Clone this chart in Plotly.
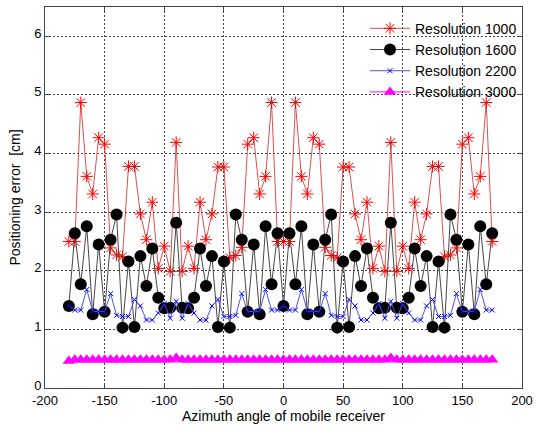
import plotly.graph_objects as go

# Azimuth angles of the mobile receiver (degrees)
angles = list(range(-180, 180, 5))

# Positioning error (cm) for each camera resolution
res_1000 = [
    2.50, 2.50, 4.87, 3.61, 3.31, 4.27, 4.16, 2.39, 2.27, 2.24,
    3.78, 3.78, 2.97, 2.53, 3.17, 2.04, 2.42, 1.99, 4.19, 1.99,
    2.42, 2.04, 3.17, 2.53, 2.97, 3.77, 3.77, 2.22, 2.26, 2.40,
    4.16, 4.27, 3.31, 3.61, 4.87, 2.50, 2.50, 2.50, 4.87, 3.61,
    3.31, 4.27, 4.16, 2.40, 2.26, 2.22, 3.77, 3.77, 2.97, 2.53,
    3.17, 2.04, 2.42, 1.99, 4.19, 1.99, 2.42, 2.04, 3.17, 2.53,
    2.97, 3.78, 3.78, 2.24, 2.27, 2.39, 4.16, 4.27, 3.31, 3.61,
    4.87, 2.50,
]
res_1600 = [
    1.40, 2.64, 1.77, 2.76, 1.26, 2.45, 1.30, 2.53, 2.96, 1.03,
    2.16, 1.04, 2.25, 1.74, 2.38, 1.54, 1.36, 1.37, 2.82, 1.37,
    1.36, 1.54, 2.38, 1.74, 2.25, 1.04, 2.16, 1.03, 2.96, 2.53,
    1.30, 2.45, 1.26, 2.76, 1.77, 2.64, 1.40, 2.64, 1.77, 2.76,
    1.26, 2.45, 1.30, 2.53, 2.96, 1.03, 2.16, 1.04, 2.25, 1.74,
    2.38, 1.54, 1.36, 1.37, 2.82, 1.37, 1.36, 1.54, 2.38, 1.74,
    2.25, 1.04, 2.16, 1.03, 2.96, 2.53, 1.30, 2.45, 1.26, 2.76,
    1.77, 2.64,
]
res_2200 = [
    1.40, 1.33, 1.33, 1.68, 1.31, 1.31, 1.30, 1.61, 1.24, 1.22,
    1.22, 1.51, 1.40, 1.16, 1.16, 1.28, 1.44, 1.19, 1.48, 1.19,
    1.44, 1.28, 1.16, 1.16, 1.40, 1.51, 1.22, 1.22, 1.24, 1.61,
    1.30, 1.31, 1.31, 1.68, 1.33, 1.33, 1.40, 1.33, 1.33, 1.68,
    1.31, 1.31, 1.30, 1.61, 1.24, 1.22, 1.22, 1.51, 1.40, 1.16,
    1.16, 1.28, 1.44, 1.19, 1.48, 1.19, 1.44, 1.28, 1.16, 1.16,
    1.40, 1.51, 1.22, 1.22, 1.24, 1.61, 1.30, 1.31, 1.31, 1.68,
    1.33, 1.33,
]
res_3000 = [0.46] + [0.48] * 17 + [0.51] + [0.48] * 35 + [0.51] + [0.48] * 17

x_ticks = [-200, -150, -100, -50, 0, 50, 100, 150, 200]
y_ticks = [0, 1, 2, 3, 4, 5, 6]

FONT = "Liberation Sans, Arial, Helvetica, sans-serif"

fig = go.Figure()
fig.add_trace(go.Scatter(
    x=angles, y=res_1000, name="Resolution 1000", mode="lines+markers",
    line=dict(color="rgb(220,80,80)", width=1),
    marker=dict(symbol="asterisk-open", size=10, color="red",
                line=dict(color="rgb(240,40,40)", width=1)),
))
fig.add_trace(go.Scatter(
    x=angles, y=res_1600, name="Resolution 1600", mode="lines+markers",
    line=dict(color="rgb(70,70,70)", width=1),
    marker=dict(symbol="circle", size=12, color="black"),
))
fig.add_trace(go.Scatter(
    x=angles, y=res_2200, name="Resolution 2200", mode="lines+markers",
    line=dict(color="rgb(80,80,235)", width=1),
    marker=dict(symbol="x-thin-open", size=5, color="blue",
                line=dict(color="blue", width=1)),
))
fig.add_trace(go.Scatter(
    x=angles, y=res_3000, name="Resolution 3000", mode="lines+markers",
    line=dict(color="magenta", width=1),
    marker=dict(symbol="triangle-up", size=11, color="magenta"),
))

axis_common = dict(
    showline=True, linecolor="#444", linewidth=1, mirror="ticks",
    ticks="inside", ticklen=4, tickcolor="#444",
    showgrid=True, gridcolor="#444", gridwidth=1, griddash="2px,2px",
    zeroline=False, tickfont=dict(family=FONT, size=13, color="black"),
)

fig.update_xaxes(
    range=[-200, 200], tickvals=x_ticks, ticktext=[str(v) for v in x_ticks],
    title=dict(text="Azimuth angle of mobile receiver",
               font=dict(family=FONT, size=14, color="black"), standoff=4),
    **axis_common,
)
fig.update_yaxes(
    range=[0, 6.5], tickvals=y_ticks, ticktext=[str(v) for v in y_ticks],
    ticklabelshift=-3,
    title=dict(text="Positioning error  [cm]",
               font=dict(family=FONT, size=14, color="black"), standoff=10),
    **axis_common,
)

fig.update_layout(
    width=539, height=430,
    margin=dict(l=45, r=11, t=6, b=42),
    paper_bgcolor="white", plot_bgcolor="white",
    showlegend=True,
    legend=dict(
        x=1.0, y=0.985, xanchor="right", yanchor="top",
        bgcolor="rgba(0,0,0,0)", borderwidth=0,
        font=dict(family=FONT, size=14, color="black"),
        tracegroupgap=0, itemwidth=40,
    ),
)

fig.write_html("out.html")
